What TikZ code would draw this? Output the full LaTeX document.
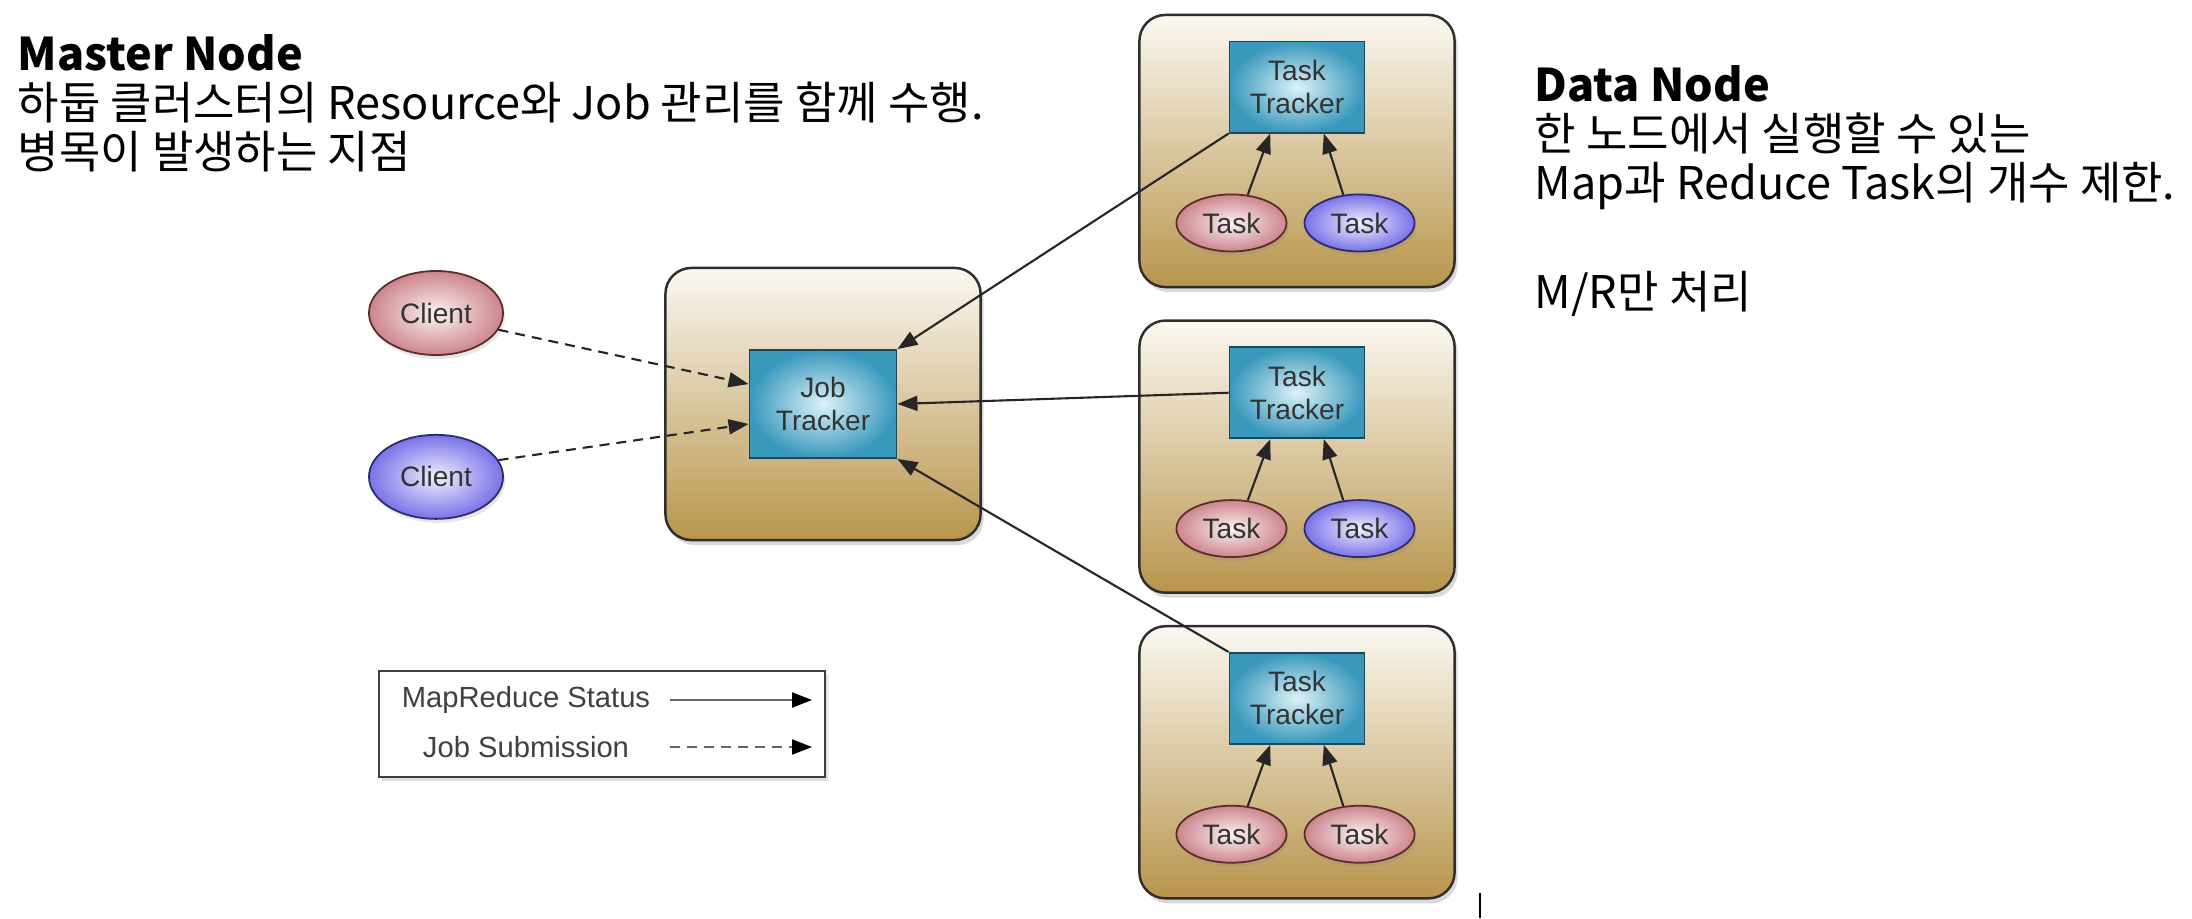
\documentclass[tikz,border=0pt]{standalone}
\usepackage{fontspec}
\setmainfont{Noto Sans CJK KR}
\newfontfamily\labelfont{Liberation Sans}
\usetikzlibrary{shapes.geometric,arrows.meta,positioning,shadows}

\definecolor{hostTop}{HTML}{FBF8F2}
\definecolor{hostBot}{HTML}{B8954C}
\definecolor{hostLine}{HTML}{2E2E2E}
\definecolor{trackEdge}{HTML}{3A98BC}
\definecolor{trackMid}{HTML}{DCF2F8}
\definecolor{trackLine}{HTML}{1E4858}
\definecolor{pinkEdge}{HTML}{CC858C}
\definecolor{pinkMid}{HTML}{FBF2F2}
\definecolor{pinkLine}{HTML}{5A2C2C}
\definecolor{blueEdge}{HTML}{7A72E8}
\definecolor{blueMid}{HTML}{F0F0FF}
\definecolor{blueLine}{HTML}{2C2C6A}

\begin{document}
\begin{tikzpicture}[
  x=0.01cm, y=-0.01cm,
  host/.style={rectangle, rounded corners=0.26cm, draw=hostLine, line width=0.7pt, top color=hostTop, bottom color=hostBot, minimum width=3.15cm, minimum height=2.72cm, drop shadow={shadow xshift=0.03cm, shadow yshift=-0.05cm, opacity=0.3}},
  tracker/.style={rectangle, draw=trackLine, line width=0.5pt, inner color=trackMid, outer color=trackEdge, minimum width=1.35cm, minimum height=0.91cm, inner sep=0pt, align=center, text=black!80, font=\labelfont\fontsize{8}{9.4}\selectfont},
  pinkball/.style={ellipse, draw=pinkLine, line width=0.5pt, inner color=pinkMid, outer color=pinkEdge, inner sep=0pt, text=black!80, font=\labelfont\fontsize{8}{9.4}\selectfont, drop shadow={shadow xshift=0.02cm, shadow yshift=-0.04cm, opacity=0.2}},
  blueball/.style={pinkball, draw=blueLine, inner color=blueMid, outer color=blueEdge},
  task/.style={minimum width=1.1cm, minimum height=0.57cm},
  client/.style={minimum width=1.34cm, minimum height=0.84cm},
  legend/.style={rectangle, draw=black!75, line width=0.6pt, fill=white, minimum width=4.46cm, minimum height=1.06cm, drop shadow={shadow xshift=0.03cm, shadow yshift=-0.04cm, opacity=0.25}},
  keytext/.style={inner sep=0pt, text=black!75, font=\labelfont\fontsize{8.3}{10}\selectfont},
  note/.style={anchor=north west, inner sep=0pt, align=left, font=\fontsize{12.8}{13.9}\selectfont},
  arrow/.style={-{Triangle[length=0.2cm, width=0.15cm]}, line width=0.6pt, draw=black!85},
  dasharrow/.style={arrow, dash pattern=on 0.1cm off 0.07cm}
]
\useasboundingbox (0,0) rectangle (2192,918);

% notes
\node[note] (master) at (17,34) {\textbf{Master Node}\\하둡 클러스터의 Resource와 Job 관리를 함께 수행.\\병목이 발생하는 지점};
\node[note] (data) at (1534,65) {\textbf{Data Node}\\한 노드에서 실행할 수 있는\\Map과 Reduce Task의 개수 제한.\\[17pt]M/R만 처리};

% master
\node[host] (jtbox) at (823,404) {};
\node[tracker, minimum width=1.47cm, minimum height=1.08cm] (jt) at (jtbox) {Job\\Tracker};

% clients
\node[pinkball, client] (client1) at (436,313) {Client};
\node[blueball, client, below=0.78cm of client1] (client2) {Client};

% data nodes
\node[host] (tbox1) at (1297,151) {};
\node[host, below=0.31cm of tbox1] (tbox2) {};
\node[host, below=0.31cm of tbox2] (tbox3) {};

\node[tracker, below=0.27cm of tbox1.north] (tt1) {Task\\Tracker};
\node[tracker, below=0.27cm of tbox2.north] (tt2) {Task\\Tracker};
\node[tracker, below=0.27cm of tbox3.north] (tt3) {Task\\Tracker};

\node[pinkball, task, below=0.6cm of tt1.south, xshift=-0.655cm] (task1a) {Task};
\node[blueball, task, below=0.6cm of tt1.south, xshift=0.625cm] (task1b) {Task};
\node[pinkball, task, below=0.6cm of tt2.south, xshift=-0.655cm] (task2a) {Task};
\node[blueball, task, below=0.6cm of tt2.south, xshift=0.625cm] (task2b) {Task};
\node[pinkball, task, below=0.6cm of tt3.south, xshift=-0.655cm] (task3a) {Task};
\node[pinkball, task, below=0.6cm of tt3.south, xshift=0.625cm] (task3b) {Task};

% legend
\node[legend] (key) at (602,724) {};
\node[keytext] (keysolid) at (526,700) {MapReduce Status};
\node[keytext] (keydash) at (526,747) {Job Submission};
\coordinate (solidfrom) at (670,700);
\coordinate (solidto) at (812,700);
\coordinate (dashfrom) at (670,747);
\coordinate (dashto) at (812,747);

\draw[arrow, draw=black!60, -{Triangle[length=0.2cm, width=0.15cm, color=black]}] (solidfrom) -- (solidto);
\draw[dasharrow, draw=black!60, -{Triangle[length=0.2cm, width=0.15cm, color=black]}] (dashfrom) -- (dashto);

% connectors
\draw[arrow] (task1a.60) -- (tt1.240);
\draw[arrow] (task1b.120) -- (tt1.300);
\draw[arrow] (task2a.60) -- (tt2.240);
\draw[arrow] (task2b.120) -- (tt2.300);
\draw[arrow] (task3a.60) -- (tt3.240);
\draw[arrow] (task3b.120) -- (tt3.300);

\draw[arrow] (tt1.south west) -- (jt.north east);
\draw[arrow] (tt2.west) -- (jt.east);
\draw[arrow] (tt3.north west) -- (jt.south east);

\draw[dasharrow] (client1.-15) -- (jt.165);
\draw[dasharrow] (client2.15) -- (jt.195);

\draw[line width=0.6pt] (1480,893) -- (1480,918);

\end{tikzpicture}
\end{document}
